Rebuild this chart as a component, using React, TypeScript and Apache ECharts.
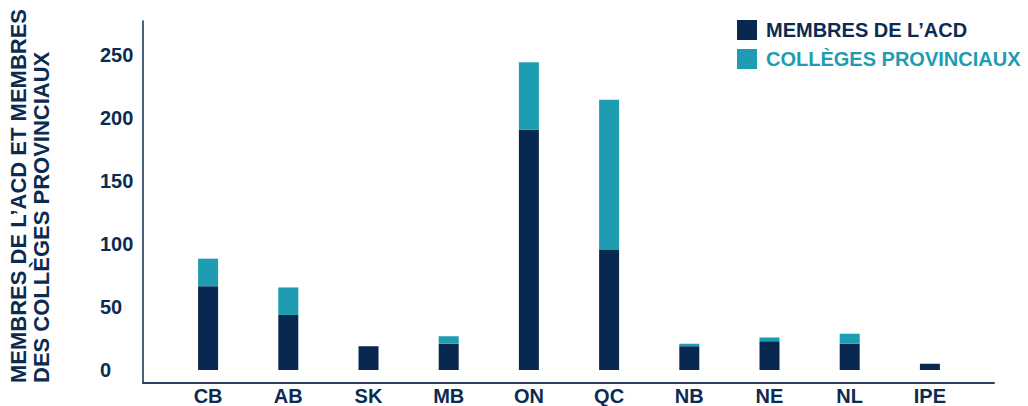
import React, { useEffect, useRef } from "react";
import * as echarts from "echarts";

const categories = ["CB", "AB", "SK", "MB", "ON", "QC", "NB", "NE", "NL", "IPE"];
const membresACD = [67, 44, 19, 21, 192, 96, 19, 23, 21, 5];
const collegesProvinciaux = [22, 22, 0, 6, 54, 120, 2, 3, 8, 0];
const yTitleLines = ["MEMBRES DE L\u2019ACD ET MEMBRES", "DES COLL\u00c8GES PROVINCIAUX"];
const seriesNames = ["MEMBRES DE L\u2019ACD", "COLL\u00c8GES PROVINCIAUX"];

const NAVY = "#08284f";
const TEAL = "#1e9db2";
const TEXT = "#0c2b52";
const FONT = "'Liberation Sans', Arial, sans-serif";
const Y_MAX = 279;

export default function App() {
  const ref = useRef<HTMLDivElement>(null);
  useEffect(() => {
    if (!ref.current) return;
    const chart = echarts.init(ref.current, undefined, { renderer: "svg" });
    chart.setOption({
      animation: false,
      textStyle: { fontFamily: FONT },
      legend: {
        orient: "vertical",
        left: 737,
        top: 20,
        padding: 0,
        itemWidth: 20,
        itemHeight: 20,
        itemGap: 9,
        icon: "rect",
        selectedMode: false,
        textStyle: { fontFamily: FONT, fontSize: 20, fontWeight: "bold", padding: [0, 0, 0, 4] },
        data: [
          { name: seriesNames[0], textStyle: { color: TEXT } },
          { name: seriesNames[1], textStyle: { color: TEAL } },
        ],
      },
      grid: [
        // bars
        { left: 168, right: 58, top: 21, bottom: 33 },
        // axis lines
        { left: 143, right: 34, top: 21, bottom: 23 },
        // y tick labels
        { left: 143, right: 34, top: 18, bottom: 36 },
      ],
      xAxis: [
        {
          type: "category",
          gridIndex: 0,
          data: categories,
          axisLine: { show: false },
          axisTick: { show: false },
          axisLabel: {
            margin: 16,
            color: TEXT,
            fontFamily: FONT,
            fontSize: 20,
            fontWeight: "bold",
          },
        },
        {
          type: "value",
          gridIndex: 1,
          min: 0,
          max: 1,
          axisLine: { show: true, onZero: false, lineStyle: { color: "#2b4063", width: 2 } },
          axisTick: { show: false },
          axisLabel: { show: false },
          splitLine: { show: false },
        },
        {
          type: "value",
          gridIndex: 2,
          min: 0,
          max: 1,
          show: false,
        },
      ],
      yAxis: [
        {
          type: "value",
          gridIndex: 0,
          min: 0,
          max: Y_MAX,
          show: false,
        },
        {
          type: "value",
          gridIndex: 1,
          min: 0,
          max: 1,
          axisLine: { show: true, onZero: false, lineStyle: { color: "#0c2b52", width: 1.5 } },
          axisTick: { show: false },
          axisLabel: { show: false },
          splitLine: { show: false },
        },
        {
          type: "value",
          gridIndex: 2,
          min: 0,
          max: Y_MAX,
          axisLine: { show: false },
          axisTick: { show: false },
          splitLine: { show: false },
          axisLabel: {
            showMaxLabel: false,
            align: "left",
            margin: 43,
            color: TEXT,
            fontFamily: FONT,
            fontSize: 20,
            fontWeight: "bold",
          },
        },
      ],
      series: [
        {
          name: seriesNames[0],
          type: "bar",
          stack: "total",
          xAxisIndex: 0,
          yAxisIndex: 0,
          barWidth: 20,
          itemStyle: { color: NAVY },
          data: membresACD,
        },
        {
          name: seriesNames[1],
          type: "bar",
          stack: "total",
          xAxisIndex: 0,
          yAxisIndex: 0,
          barWidth: 20,
          itemStyle: { color: TEAL },
          data: collegesProvinciaux,
        },
      ],
      graphic: [
        {
          type: "text",
          x: 18,
          y: 383,
          rotation: Math.PI / 2,
          style: {
            text: yTitleLines[0],
            fill: TEXT,
            font: `bold 22px ${FONT}`,
            align: "left",
            verticalAlign: "middle",
          },
        },
        {
          type: "text",
          x: 41,
          y: 383,
          rotation: Math.PI / 2,
          style: {
            text: yTitleLines[1],
            fill: TEXT,
            font: `bold 22px ${FONT}`,
            align: "left",
            verticalAlign: "middle",
          },
        },
      ],
    });
    return () => chart.dispose();
  }, []);
  return (
    <div
      ref={ref}
      style={{ position: "fixed", left: 0, top: 0, width: 1028, height: 406, background: "#fff" }}
    />
  );
}
